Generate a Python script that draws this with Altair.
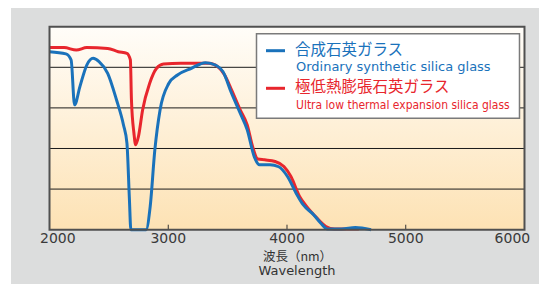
import altair as alt
import pandas as pd

# ---- data ----
blue_wl = [2000, 2138, 2182, 2211, 2256, 2314, 2367, 2417, 2490, 2564, 2623, 2652, 2673, 2685,
           2813, 2848, 2887, 2931, 3004, 3078, 3195, 3313, 3401, 3460, 3533, 3606, 3665, 3724,
           3768, 3856, 3930, 4004, 4077, 4136, 4224, 4283, 4341, 4459, 4576, 4708]
blue_val = [87.7, 86.6, 83.6, 61.5, 70.5, 81.1, 84.4, 82.8, 77.0, 64.0, 51.6, 42.6, 14.8, 0.0,
            0.0, 11.5, 39.3, 59.0, 72.0, 76.2, 79.5, 82.3, 81.0, 77.9, 67.2, 57.4, 49.2, 36.0,
            32.0, 32.0, 31.0, 26.2, 18.0, 12.3, 7.4, 3.3, 0.3, 0.3, 1.1, 0.0]

red_wl = [2000, 2123, 2226, 2314, 2490, 2579, 2652, 2681, 2690, 2711, 2725, 2749, 2784, 2843,
          2902, 2960, 3107, 3342, 3416, 3475, 3533, 3606, 3665, 3710, 3754, 3812, 3900, 3974,
          4033, 4106, 4165, 4253, 4327, 4400, 4605]
red_val = [89.7, 89.7, 88.5, 89.7, 89.3, 87.7, 86.9, 83.6, 64.0, 47.5, 41.8, 45.9, 59.0, 72.0,
           79.5, 81.6, 82.0, 82.0, 80.3, 76.2, 68.9, 59.0, 51.6, 41.0, 34.8, 34.4, 33.6, 31.1,
           26.2, 16.4, 11.5, 5.7, 1.6, 0.3, 0.3]

series_jp = ["合成石英ガラス", "極低熱膨張石英ガラス"]
series_en = ["Ordinary synthetic silica glass", "Ultra low thermal expansion silica glass"]
series_colors = ["#1a72bb", "#e8262d"]
x_ticks = [2000, 3000, 4000, 5000, 6000]
inner_ticks = [3000, 4000, 5000]
grid_vals = [20, 40, 60, 80]
axis_title_jp = "波長（nm）"
axis_title_en = "Wavelength"

W, H = 475, 203

df_blue = pd.DataFrame({"wl": blue_wl, "val": blue_val})
df_red = pd.DataFrame({"wl": red_wl, "val": red_val})
one = pd.DataFrame({"k": [0]})

xscale = alt.Scale(domain=[2000, 6000], nice=False, zero=False)
yscale = alt.Scale(domain=[0, 100], nice=False)

bg = alt.Chart(one).mark_rect(color="#dcdddd").encode(
    x=alt.value(-38.5), x2=alt.value(700), y=alt.value(-40), y2=alt.value(400))

grad = alt.Gradient(
    gradient="linear",
    stops=[alt.GradientStop(color="#fffdf9", offset=0), alt.GradientStop(color="#fde2b4", offset=1)],
    x1=0, x2=0, y1=0, y2=1)
plotbg = alt.Chart(one).mark_rect(color=grad).encode(
    x=alt.value(0), x2=alt.value(W), y=alt.value(0), y2=alt.value(H))

grid = alt.Chart(pd.DataFrame({"g": grid_vals})).mark_rule(color="#1a1a1a", strokeWidth=1).encode(
    y=alt.Y("g:Q", scale=yscale, axis=None), x=alt.value(0), x2=alt.value(W))

ticks = alt.Chart(pd.DataFrame({"t": inner_ticks})).mark_rule(color="#333333", strokeWidth=1).encode(
    x=alt.X("t:Q", scale=xscale, axis=None), y=alt.value(H - 5), y2=alt.value(H))

# tick labels drawn through the x scale (first flush-left, last flush-right)
lbl_df = pd.DataFrame({"t": x_ticks, "lbl": [str(v) for v in x_ticks]})
label_layers = []
for sub, align, dx in [(lbl_df.iloc[:1], "left", -9.5),
                       (lbl_df.iloc[1:-1], "center", 0),
                       (lbl_df.iloc[-1:], "right", 5.7)]:
    label_layers.append(alt.Chart(sub).mark_text(
        font="DejaVu Sans", fontSize=14, color="#3a3a3a", align=align, dx=dx,
        baseline="alphabetic").encode(
        x=alt.X("t:Q", scale=xscale, axis=None), y=alt.value(216.6), text="lbl:N"))

red_line = alt.Chart(df_red).mark_line(color=series_colors[1], strokeWidth=3,
                                       interpolate="monotone").encode(
    x=alt.X("wl:Q", scale=xscale, axis=None), y=alt.Y("val:Q", scale=yscale, axis=None))
blue_line = alt.Chart(df_blue).mark_line(color=series_colors[0], strokeWidth=3,
                                         interpolate="monotone").encode(
    x=alt.X("wl:Q", scale=xscale, axis=None), y=alt.Y("val:Q", scale=yscale, axis=None))

border = alt.Chart(one).mark_rect(filled=False, color="#505050", strokeWidth=2).encode(
    x=alt.value(0), x2=alt.value(W), y=alt.value(0), y2=alt.value(H))

legbox = alt.Chart(one).mark_rect(fill="white", stroke="#7a7a7a", strokeWidth=1.5).encode(
    x=alt.value(207), x2=alt.value(470), y=alt.value(7), y2=alt.value(91.5))

leg_layers = []
seg_y = [24, 61.6]
jp_y = [23.5, 60.5]
en_y = [44.3, 82.3]
en_font = [("DejaVu Sans", 13), ("DejaVu Sans Condensed", 12)]
for i in range(2):
    leg_layers.append(alt.Chart(one).mark_rule(color=series_colors[i], strokeWidth=3).encode(
        x=alt.value(216.5), x2=alt.value(235.5), y=alt.value(seg_y[i])))
    leg_layers.append(alt.Chart(one).mark_text(
        text=series_jp[i], color=series_colors[i], font="Noto Sans CJK JP", fontSize=15.5,
        align="left", baseline="middle").encode(x=alt.value(245.5), y=alt.value(jp_y[i])))
    leg_layers.append(alt.Chart(one).mark_text(
        text=series_en[i], color=series_colors[i], font=en_font[i][0], fontSize=en_font[i][1],
        align="left", baseline="alphabetic").encode(x=alt.value(246.5), y=alt.value(en_y[i])))

title1 = alt.Chart(one).mark_text(text=axis_title_jp, font="Noto Sans CJK JP", fontSize=12.5,
                                  color="#333333", align="center", baseline="alphabetic").encode(
    x=alt.value(248), y=alt.value(234.5))
title2 = alt.Chart(one).mark_text(text=axis_title_en, font="DejaVu Sans", fontSize=13,
                                  color="#333333", align="center", baseline="alphabetic").encode(
    x=alt.value(247.5), y=alt.value(248))

chart = alt.layer(bg, plotbg, grid, ticks, *label_layers, red_line, blue_line, border, legbox,
                  *leg_layers, title1, title2).properties(
    width=W, height=H,
    autosize=alt.AutoSizeParams(type="none"),
    padding={"left": 41.5, "top": 18.7, "right": 14.5, "bottom": 54},
    background="white",
).configure_view(strokeWidth=0)

chart.save("out.html", embed_options={"renderer": "svg", "actions": False})
